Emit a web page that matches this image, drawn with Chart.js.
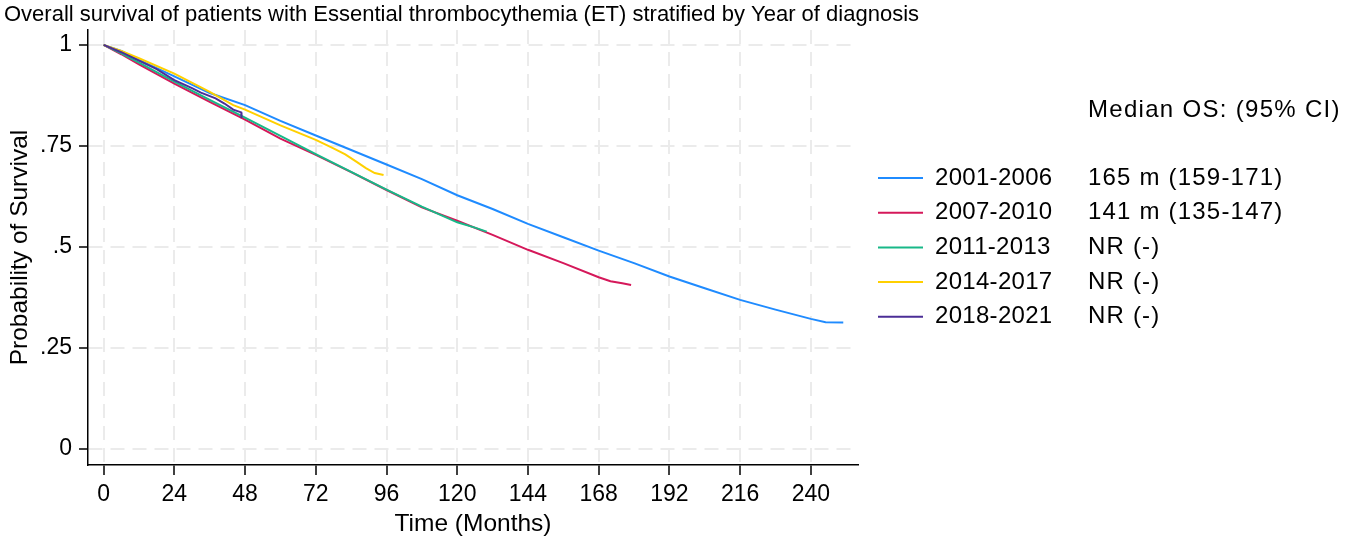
<!DOCTYPE html>
<html>
<head>
<meta charset="utf-8">
<script src="https://cdn.jsdelivr.net/npm/chart.js@4.4.0/dist/chart.umd.min.js"></script>
<style>
  html, body { margin: 0; padding: 0; background: #fff; }
  #wrap { width: 1359px; height: 539px; position: relative; }
</style>
</head>
<body>
<div id="wrap"><canvas id="km"></canvas></div>
<script>
// Kaplan-Meier curves (months, survival)
const months2001 = [0, 6, 12, 24, 36, 48, 60, 72, 84, 96, 108, 120, 132, 144, 156, 168, 180, 192, 204, 216, 228, 240, 245, 251];
const surv2001   = [1, 0.985, 0.963, 0.922, 0.881, 0.851, 0.812, 0.776, 0.74, 0.704, 0.668, 0.628, 0.594, 0.557, 0.524, 0.491, 0.46, 0.427, 0.398, 0.369, 0.345, 0.322, 0.314, 0.313];

const months2007 = [0, 6, 12, 24, 36, 48, 60, 72, 84, 96, 108, 120, 132, 144, 156, 168, 172, 176, 179];
const surv2007   = [1, 0.977, 0.952, 0.904, 0.859, 0.815, 0.768, 0.728, 0.685, 0.641, 0.598, 0.565, 0.53, 0.493, 0.46, 0.425, 0.415, 0.41, 0.406];

const months2011 = [0, 6, 12, 24, 36, 48, 60, 72, 84, 96, 108, 120, 126, 130];
const surv2011   = [1, 0.979, 0.956, 0.909, 0.864, 0.82, 0.775, 0.73, 0.686, 0.642, 0.6, 0.561, 0.548, 0.538];

const months2014 = [0, 6, 12, 24, 36, 44, 48, 60, 72, 78, 82, 86, 89, 92, 95];
const surv2014   = [1, 0.985, 0.967, 0.929, 0.884, 0.851, 0.84, 0.801, 0.765, 0.744, 0.729, 0.71, 0.695, 0.683, 0.678];

const months2018 = [0, 6, 12, 18, 24, 30, 33, 38, 41, 44, 46.7, 46.8];
const surv2018   = [1, 0.982, 0.961, 0.94, 0.913, 0.893, 0.882, 0.868, 0.855, 0.84, 0.833, 0.819];

const groupLabels  = ['2001-2006', '2007-2010', '2011-2013', '2014-2017', '2018-2021'];
const medianLabels = ['165 m (159-171)', '141 m (135-147)', 'NR (-)', 'NR (-)', 'NR (-)'];
const lineColors   = ['#1f8bff', '#d5185a', '#18b888', '#ffd000', '#4b2e96'];

const xTicks = [0, 24, 48, 72, 96, 120, 144, 168, 192, 216, 240];
const yTicks = [0, 0.25, 0.5, 0.75, 1];
const yTickLabels = ['0', '.25', '.5', '.75', '1'];

const FONT = 'Liberation Sans, Arial, Helvetica, sans-serif';

function toPoints(xs, ys) {
    return xs.map((x, i) => ({ x: x, y: ys[i] }));
}

const seriesData = [
    toPoints(months2001, surv2001),
    toPoints(months2007, surv2007),
    toPoints(months2011, surv2011),
    toPoints(months2014, surv2014),
    toPoints(months2018, surv2018)
];

const datasets = seriesData.map((pts, i) => ({
    label: groupLabels[i],
    data: pts,
    borderColor: lineColors[i],
    backgroundColor: lineColors[i],
    borderWidth: 2,
    pointRadius: 0,
    tension: 0,
    fill: false,
    order: seriesData.length - i   // later groups drawn on top
}));

// title + right side legend with median OS column
const sidePanel = {
    id: 'sidePanel',
    afterDraw(chart) {
        const ctx = chart.ctx;
        ctx.save();
        ctx.fillStyle = '#000';
        ctx.textBaseline = 'middle';
        ctx.textAlign = 'left';

        ctx.font = '22px ' + FONT;
        ctx.fillText('Overall survival of patients with Essential thrombocythemia (ET) stratified by Year of diagnosis', 4, 15);

        ctx.font = '24px ' + FONT;
        ctx.letterSpacing = '1.3px';
        ctx.fillText('Median OS: (95% CI)', 1088, 110);

        chart.data.datasets.forEach((ds, i) => {
            const y = 178 + i * 34.7;
            ctx.strokeStyle = ds.borderColor;
            ctx.lineWidth = 2;
            ctx.beginPath();
            ctx.moveTo(878, y);
            ctx.lineTo(923, y);
            ctx.stroke();
            ctx.fillStyle = '#000';
            ctx.letterSpacing = '0.3px';
            ctx.fillText(ds.label, 935, y);
            ctx.letterSpacing = '1.2px';
            ctx.fillText(medianLabels[i], 1088, y);
        });
        ctx.letterSpacing = '0px';
        ctx.restore();
    }
};

const gridStyle = {
    color: '#ebebeb',
    lineWidth: 2,
    tickColor: '#000',
    tickWidth: 1.5,
    tickBorderDash: []
};

new Chart(document.getElementById('km').getContext('2d'), {
    type: 'line',
    data: { datasets: datasets },
    plugins: [sidePanel],
    options: {
        responsive: true,
        maintainAspectRatio: false,
        animation: false,
        events: [],
        layout: { padding: { top: 30, right: 501, bottom: 0, left: 0 } },
        plugins: {
            legend: { display: false },
            tooltip: { enabled: false },
            title: { display: false }
        },
        scales: {
            x: {
                type: 'linear',
                min: -5.3,
                max: 256,
                afterBuildTicks: (scale) => { scale.ticks = xTicks.map(v => ({ value: v })); },
                afterFit: (scale) => { scale.height = 74; },
                grid: Object.assign({ tickLength: 10 }, gridStyle),
                border: { display: true, color: '#000', width: 1.5, dash: [14, 8] },
                ticks: {
                    color: '#000',
                    padding: 6,
                    maxRotation: 0,
                    autoSkip: false,
                    font: { family: FONT, size: 23 }
                },
                title: {
                    display: true,
                    text: 'Time (Months)',
                    color: '#000',
                    padding: { top: 0, bottom: 0 },
                    font: { family: FONT, size: 24.5 }
                }
            },
            y: {
                type: 'linear',
                min: -0.0396,
                max: 1.037,
                afterBuildTicks: (scale) => { scale.ticks = yTicks.map(v => ({ value: v })); },
                afterFit: (scale) => { scale.width = 88; },
                grid: Object.assign({ tickLength: 9 }, gridStyle),
                border: { display: true, color: '#000', width: 1.5, dash: [14, 8] },
                ticks: {
                    color: '#000',
                    padding: 7,
                    autoSkip: false,
                    font: { family: FONT, size: 23 },
                    callback: (value) => {
                        const k = yTicks.indexOf(value);
                        return k >= 0 ? yTickLabels[k] : '';
                    }
                },
                title: {
                    display: true,
                    text: 'Probability of Survival',
                    color: '#000',
                    padding: { top: 6, bottom: 0 },
                    font: { family: FONT, size: 24.5 }
                }
            }
        }
    }
});
</script>
</body>
</html>
